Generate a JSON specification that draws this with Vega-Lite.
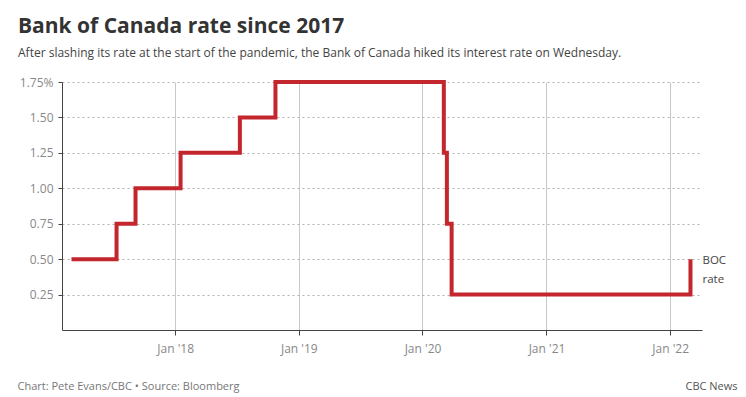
{
  "$schema": "https://vega.github.io/schema/vega-lite/v6.json",
  "autosize": {"type": "none"},
  "width": 640,
  "height": 248,
  "padding": {"left": 62, "top": 82, "right": 44, "bottom": 67},
  "background": "white",
  "config": {
    "font": "Open Sans",
    "view": {"stroke": null}
  },
  "title": {
    "text": "Bank of Canada rate since 2017",
    "subtitle": "After slashing its rate at the start of the pandemic, the Bank of Canada hiked its interest rate on Wednesday.",
    "anchor": "start",
    "frame": "group",
    "dx": -44,
    "offset": 15,
    "font": "Open Sans",
    "fontSize": 21,
    "fontWeight": "bold",
    "color": "#333333",
    "subtitleFont": "Open Sans",
    "subtitleFontSize": 12,
    "subtitleColor": "#444444",
    "subtitlePadding": 11
  },
  "data": {
    "values": [
      {"date": "2017-03-01", "rate": 0.5, "label": ""},
      {"date": "2017-07-12", "rate": 0.75, "label": ""},
      {"date": "2017-09-06", "rate": 1.0, "label": ""},
      {"date": "2018-01-17", "rate": 1.25, "label": ""},
      {"date": "2018-07-11", "rate": 1.5, "label": ""},
      {"date": "2018-10-24", "rate": 1.75, "label": ""},
      {"date": "2020-03-04", "rate": 1.25, "label": ""},
      {"date": "2020-03-13", "rate": 0.75, "label": ""},
      {"date": "2020-03-27", "rate": 0.25, "label": ""},
      {"date": "2022-03-02", "rate": 0.5, "label": "BOC\nrate"}
    ]
  },
  "layer": [
    {
      "mark": {"type": "line", "interpolate": "step-after", "color": "#c4262e", "strokeWidth": 4, "strokeCap": "butt", "strokeJoin": "miter"},
      "encoding": {
        "x": {
          "field": "date", "type": "temporal",
          "scale": {"domain": [{"year": 2017, "month": 2, "date": 1}, {"year": 2022, "month": 4, "date": 5}]},
          "axis": {
            "values": [
              {"year": 2018, "month": 1, "date": 1},
              {"year": 2019, "month": 1, "date": 1},
              {"year": 2020, "month": 1, "date": 1},
              {"year": 2021, "month": 1, "date": 1},
              {"year": 2022, "month": 1, "date": 1}
            ],
            "format": "%b '%y",
            "labelFont": "Open Sans",
            "labelFontSize": 12,
            "labelColor": "#888888",
            "labelPadding": 8,
            "tickSize": 5,
            "tickColor": "#444444",
            "domainColor": "#444444",
            "grid": true,
            "gridColor": "#c8c8c8",
            "gridWidth": 1,
            "title": "Chart: Pete Evans/CBC • Source: Bloomberg",
            "titleFont": "Open Sans",
            "titleFontSize": 11,
            "titleFontWeight": "normal",
            "titleColor": "#777777",
            "titleAnchor": "start",
            "titleAlign": "left",
            "titleBaseline": "alphabetic",
            "titleX": -45,
            "titleY": 59
          }
        },
        "y": {
          "field": "rate", "type": "quantitative",
          "scale": {"domain": [0, 1.75], "nice": false},
          "axis": {
            "values": [0.25, 0.5, 0.75, 1.0, 1.25, 1.5, 1.75],
            "labelExpr": "datum.value == 1.75 ? format(datum.value, '.2f') + '%' : format(datum.value, '.2f')",
            "labelFont": "Open Sans",
            "labelFontSize": 12,
            "labelColor": "#888888",
            "labelPadding": 5,
            "tickSize": 4,
            "tickColor": "#444444",
            "domainColor": "#444444",
            "grid": true,
            "gridColor": "#b0b0b0",
            "gridDash": [2, 3],
            "title": null
          }
        }
      }
    },
    {
      "transform": [{"filter": "datum.label != ''"}],
      "mark": {"type": "text", "align": "left", "baseline": "top", "dx": 12, "dy": -4, "lineBreak": "\n", "lineHeight": 19, "fontSize": 11.5, "color": "#444444", "font": "Open Sans"},
      "encoding": {
        "x": {"field": "date", "type": "temporal"},
        "y": {
          "field": "rate", "type": "quantitative",
          "scale": {"domain": [0, 1.75], "nice": false},
          "axis": {
            "orient": "right",
            "domain": false, "ticks": false, "labels": false, "grid": false,
            "title": "CBC News",
            "titleAngle": 0,
            "titleFont": "Open Sans",
            "titleFontSize": 11,
            "titleFontWeight": "normal",
            "titleColor": "#555555",
            "titleAlign": "right",
            "titleBaseline": "alphabetic",
            "titleX": 35,
            "titleY": 307
          }
        },
        "text": {"field": "label"}
      }
    }
  ],
  "resolve": {"scale": {"y": "independent"}, "axis": {"y": "independent"}}
}
